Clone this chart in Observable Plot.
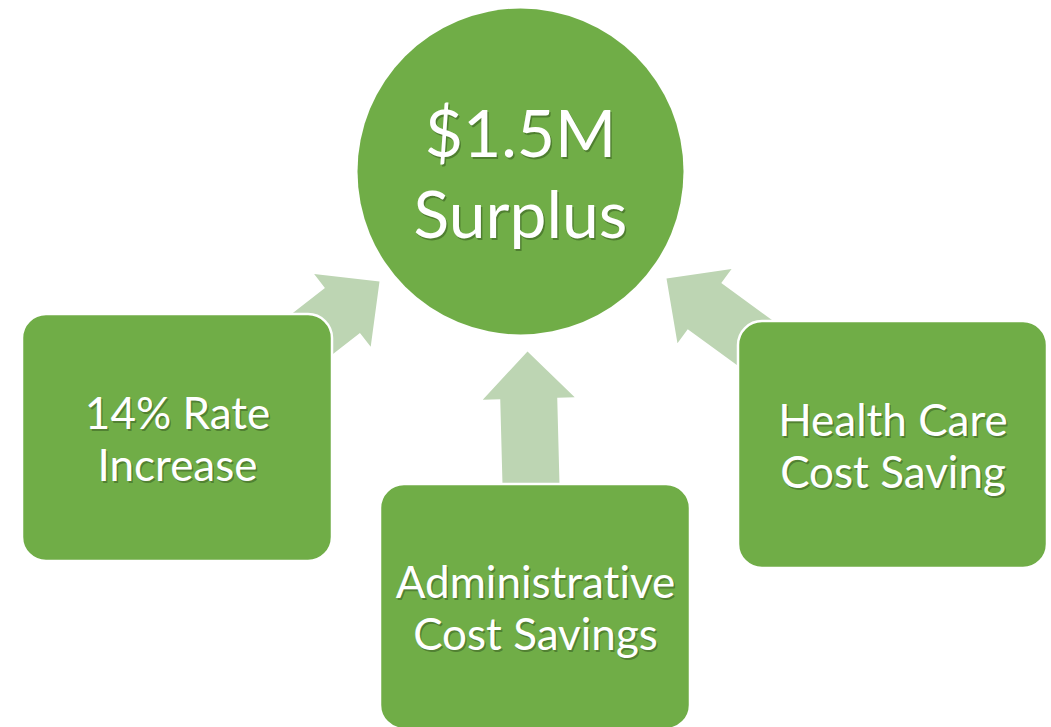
<!DOCTYPE html>
<html><head><meta charset="utf-8">
<script src="https://cdn.jsdelivr.net/npm/d3@7"></script>
<script src="https://cdn.jsdelivr.net/npm/@observablehq/plot@0.6"></script>
<style>html,body{margin:0;padding:0;background:#fff} svg{display:block} svg text{font-variant-ligatures:none;font-feature-settings:"liga" 0,"clig" 0}</style>
</head><body><div id="chart"></div>
<script>
// Hub (result)
const hubLabels = ["$1.5M\nSurplus"];
const hubX = [520];
const hubY = [171];

// Contributing boxes
const boxLabels = ["14% Rate\nIncrease", "Administrative\nCost Savings", "Health Care\nCost Saving"];
const boxX1 = [22, 380, 738];
const boxX2 = [332, 690, 1047];
const boxY1 = [314, 484, 321];
const boxY2 = [561, 729, 568];

// Arrows (tip and base, in chart units)
const arrowTipX = [379, 527, 666];
const arrowTipY = [281, 351, 278];
const arrowBaseX = [261, 530.5, 787];
const arrowBaseY = [373, 484, 366];

const GREEN = "#70AD47";
const ARROW = "#BDD5B3";
const FONT = "Lato, 'Open Sans', sans-serif";

const hubs = hubLabels.map((t, i) => ({t, x: hubX[i], y: hubY[i]}));
const boxes = boxLabels.map((t, i) => ({t, x1: boxX1[i], x2: boxX2[i], y1: boxY1[i], y2: boxY2[i]}));

// Block-arrow polygons from tip/base
const headLen = 47, headHalf = 46, shaftHalf = 28.5;
const arrowPts = [];
arrowTipX.forEach((tx, i) => {
  const ty = arrowTipY[i], bx = arrowBaseX[i], by = arrowBaseY[i];
  const L = Math.hypot(tx - bx, ty - by);
  const ux = (tx - bx) / L, uy = (ty - by) / L;
  const nx = -uy, ny = ux;
  const hx = tx - headLen * ux, hy = ty - headLen * uy;
  const pts = [
    [bx + shaftHalf * nx, by + shaftHalf * ny],
    [hx + shaftHalf * nx, hy + shaftHalf * ny],
    [hx + headHalf * nx, hy + headHalf * ny],
    [tx, ty],
    [hx - headHalf * nx, hy - headHalf * ny],
    [hx - shaftHalf * nx, hy - shaftHalf * ny],
    [bx - shaftHalf * nx, by - shaftHalf * ny],
    [bx + shaftHalf * nx, by + shaftHalf * ny]
  ];
  pts.forEach(([x, y]) => arrowPts.push({a: i, x, y}));
});

const boxCx = d => (d.x1 + d.x2) / 2;
const boxCy = d => (d.y1 + d.y2) / 2;

const chart = Plot.plot({
  width: 1051,
  height: 727,
  margin: 0,
  style: {background: "#fff"},
  x: {domain: [0, 1051], range: [0, 1051], axis: null},
  y: {domain: [0, 727], range: [0, 727], axis: null},
  marks: [
    Plot.line(arrowPts, {x: "x", y: "y", z: "a", fill: ARROW, stroke: "none", curve: "linear"}),
    Plot.dot(hubs, {x: "x", y: "y", r: 163, fill: GREEN, stroke: "none"}),
    Plot.rect(boxes, {x1: "x1", x2: "x2", y1: "y1", y2: "y2", rx: 24, fill: GREEN, stroke: "#fff", strokeWidth: 2.5}),
    // text shadows
    Plot.text(hubs, {x: "x", y: "y", text: "t", dx: 1.5, dy: 2, fontSize: 66, lineHeight: 81/66, fontFamily: FONT, fill: "#1f3a10", fillOpacity: 0.4}),
    Plot.text(boxes, {x: boxCx, y: boxCy, text: "t", dx: 1.5, dy: 2, fontSize: 44, lineHeight: 52/44, fontFamily: FONT, fill: "#1f3a10", fillOpacity: 0.4}),
    // text
    Plot.text(hubs, {x: "x", y: "y", text: "t", fontSize: 66, lineHeight: 81/66, fontFamily: FONT, fill: "#fff"}),
    Plot.text(boxes, {x: boxCx, y: boxCy, text: "t", fontSize: 44, lineHeight: 52/44, fontFamily: FONT, fill: "#fff"})
  ]
});
document.getElementById("chart").appendChild(chart);
</script>
</body></html>
